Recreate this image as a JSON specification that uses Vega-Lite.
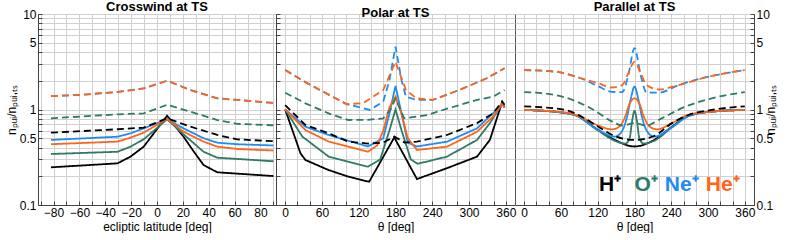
{
  "$schema": "https://vega.github.io/schema/vega-lite/v6.json",
  "padding": {"left": 4, "top": 0, "right": 0, "bottom": 0},
  "background": "white",
  "spacing": 0,
  "bounds": "flush",
  "config": {
    "font": "Liberation Sans",
    "view": {"stroke": "#555", "strokeWidth": 1},
    "title": {"fontSize": 13, "fontWeight": "bold", "font": "Liberation Sans", "offset": -6, "color": "#000"},
    "axis": {
      "labelFont": "Liberation Sans", "labelFontSize": 12, "labelColor": "#000",
      "titleFont": "Liberation Sans", "titleFontSize": 12, "titleFontWeight": "normal", "titleColor": "#000",
      "gridColor": "#d0d0d0", "gridWidth": 1, "tickColor": "#444", "tickSize": -4, "domainColor": "#444",
      "labelPadding": 6, "titlePadding": 3
    },
    "line": {"strokeWidth": 1.8}
  },
  "datasets": {
    "cross": [
      {"x":-82,"v":0.248,"s":"H","k":"solid"},{"x":-30.5,"v":0.273,"s":"H","k":"solid"},{"x":-20.5,"v":0.321,"s":"H","k":"solid"},{"x":-10.3,"v":0.408,"s":"H","k":"solid"},{"x":7.8,"v":0.86,"s":"H","k":"solid"},{"x":20.5,"v":0.519,"s":"H","k":"solid"},{"x":28,"v":0.37,"s":"H","k":"solid"},{"x":36,"v":0.262,"s":"H","k":"solid"},{"x":46.6,"v":0.22,"s":"H","k":"solid"},{"x":90,"v":0.201,"s":"H","k":"solid"},
      {"x":-82,"v":0.342,"s":"O","k":"solid"},{"x":-30.5,"v":0.361,"s":"O","k":"solid"},{"x":-20.5,"v":0.408,"s":"O","k":"solid"},{"x":-10.3,"v":0.487,"s":"O","k":"solid"},{"x":7.8,"v":0.789,"s":"O","k":"solid"},{"x":20.5,"v":0.55,"s":"O","k":"solid"},{"x":36,"v":0.361,"s":"O","k":"solid"},{"x":46.6,"v":0.313,"s":"O","k":"solid"},{"x":90,"v":0.287,"s":"O","k":"solid"},
      {"x":-82,"v":0.48,"s":"Ne","k":"solid"},{"x":-30.5,"v":0.519,"s":"Ne","k":"solid"},{"x":-20.5,"v":0.563,"s":"Ne","k":"solid"},{"x":-10.3,"v":0.635,"s":"Ne","k":"solid"},{"x":7.8,"v":0.789,"s":"Ne","k":"solid"},{"x":20.5,"v":0.635,"s":"Ne","k":"solid"},{"x":36,"v":0.5,"s":"Ne","k":"solid"},{"x":46.6,"v":0.449,"s":"Ne","k":"solid"},{"x":62,"v":0.433,"s":"Ne","k":"solid"},{"x":90,"v":0.42,"s":"Ne","k":"solid"},
      {"x":-82,"v":0.433,"s":"He","k":"solid"},{"x":-30.5,"v":0.461,"s":"He","k":"solid"},{"x":-20.5,"v":0.507,"s":"He","k":"solid"},{"x":-10.3,"v":0.572,"s":"He","k":"solid"},{"x":7.8,"v":0.8,"s":"He","k":"solid"},{"x":20.5,"v":0.585,"s":"He","k":"solid"},{"x":36,"v":0.461,"s":"He","k":"solid"},{"x":46.6,"v":0.408,"s":"He","k":"solid"},{"x":62,"v":0.386,"s":"He","k":"solid"},{"x":90,"v":0.372,"s":"He","k":"solid"},
      {"x":-82,"v":0.572,"s":"H","k":"dashed"},{"x":-30.5,"v":0.621,"s":"H","k":"dashed"},{"x":-10.3,"v":0.645,"s":"H","k":"dashed"},{"x":7.8,"v":0.809,"s":"H","k":"dashed"},{"x":25.9,"v":0.661,"s":"H","k":"dashed"},{"x":46.6,"v":0.541,"s":"H","k":"dashed"},{"x":62,"v":0.487,"s":"H","k":"dashed"},{"x":90,"v":0.465,"s":"H","k":"dashed"},
      {"x":-82,"v":0.809,"s":"O","k":"dashed"},{"x":-30.5,"v":0.89,"s":"O","k":"dashed"},{"x":-10.3,"v":0.91,"s":"O","k":"dashed"},{"x":7.8,"v":1.12,"s":"O","k":"dashed"},{"x":25.9,"v":0.948,"s":"O","k":"dashed"},{"x":46.6,"v":0.776,"s":"O","k":"dashed"},{"x":62,"v":0.707,"s":"O","k":"dashed"},{"x":90,"v":0.684,"s":"O","k":"dashed"},
      {"x":-82,"v":1.38,"s":"Ne","k":"dashed"},{"x":-57,"v":1.43,"s":"Ne","k":"dashed"},{"x":-30,"v":1.53,"s":"Ne","k":"dashed"},{"x":-10.3,"v":1.66,"s":"Ne","k":"dashed"},{"x":7.8,"v":2.0,"s":"Ne","k":"dashed"},{"x":25.9,"v":1.6,"s":"Ne","k":"dashed"},{"x":46.6,"v":1.31,"s":"Ne","k":"dashed"},{"x":62,"v":1.26,"s":"Ne","k":"dashed"},{"x":90,"v":1.17,"s":"Ne","k":"dashed"},
      {"x":-82,"v":1.38,"s":"He","k":"dashed"},{"x":-57,"v":1.43,"s":"He","k":"dashed"},{"x":-30,"v":1.53,"s":"He","k":"dashed"},{"x":-10.3,"v":1.66,"s":"He","k":"dashed"},{"x":7.8,"v":2.0,"s":"He","k":"dashed"},{"x":25.9,"v":1.6,"s":"He","k":"dashed"},{"x":46.6,"v":1.31,"s":"He","k":"dashed"},{"x":62,"v":1.26,"s":"He","k":"dashed"},{"x":90,"v":1.17,"s":"He","k":"dashed"}
    ],
    "polar": [
      {"x":0,"v":1.0,"s":"H","k":"solid"},{"x":25,"v":0.347,"s":"H","k":"solid"},{"x":33,"v":0.296,"s":"H","k":"solid"},{"x":71,"v":0.232,"s":"H","k":"solid"},{"x":103,"v":0.198,"s":"H","k":"solid"},{"x":137,"v":0.175,"s":"H","k":"solid"},{"x":178,"v":0.51,"s":"H","k":"solid"},{"x":215,"v":0.187,"s":"H","k":"solid"},{"x":264,"v":0.243,"s":"H","k":"solid"},{"x":313,"v":0.321,"s":"H","k":"solid"},{"x":334,"v":0.48,"s":"H","k":"solid"},{"x":354,"v":1.2,"s":"H","k":"solid"},{"x":358,"v":1.05,"s":"H","k":"solid"},
      {"x":0,"v":1.0,"s":"O","k":"solid"},{"x":28,"v":0.52,"s":"O","k":"solid"},{"x":71,"v":0.321,"s":"O","k":"solid"},{"x":135,"v":0.252,"s":"O","k":"solid"},{"x":155,"v":0.3,"s":"O","k":"solid"},{"x":170,"v":0.6,"s":"O","k":"solid"},{"x":180,"v":1.0,"s":"O","k":"solid"},{"x":190,"v":0.6,"s":"O","k":"solid"},{"x":205,"v":0.3,"s":"O","k":"solid"},{"x":216,"v":0.27,"s":"O","k":"solid"},{"x":264,"v":0.321,"s":"O","k":"solid"},{"x":313,"v":0.48,"s":"O","k":"solid"},{"x":334,"v":0.72,"s":"O","k":"solid"},{"x":354,"v":1.15,"s":"O","k":"solid"},{"x":358,"v":1.05,"s":"O","k":"solid"},
      {"x":0,"v":1.0,"s":"Ne","k":"solid"},{"x":33,"v":0.66,"s":"Ne","k":"solid"},{"x":71,"v":0.541,"s":"Ne","k":"solid"},{"x":135,"v":0.41,"s":"Ne","k":"solid"},{"x":160,"v":0.5,"s":"Ne","k":"solid"},{"x":170,"v":0.9,"s":"Ne","k":"solid"},{"x":180,"v":1.77,"s":"Ne","k":"solid"},{"x":190,"v":0.9,"s":"Ne","k":"solid"},{"x":200,"v":0.45,"s":"Ne","k":"solid"},{"x":215,"v":0.41,"s":"Ne","k":"solid"},{"x":264,"v":0.46,"s":"Ne","k":"solid"},{"x":313,"v":0.635,"s":"Ne","k":"solid"},{"x":339,"v":0.91,"s":"Ne","k":"solid"},{"x":354,"v":1.15,"s":"Ne","k":"solid"},{"x":358,"v":1.05,"s":"Ne","k":"solid"},
      {"x":0,"v":1.0,"s":"He","k":"solid"},{"x":33,"v":0.61,"s":"He","k":"solid"},{"x":71,"v":0.461,"s":"He","k":"solid"},{"x":135,"v":0.361,"s":"He","k":"solid"},{"x":150,"v":0.42,"s":"He","k":"solid"},{"x":160,"v":0.6,"s":"He","k":"solid"},{"x":170,"v":1.05,"s":"He","k":"solid"},{"x":180,"v":1.36,"s":"He","k":"solid"},{"x":190,"v":0.9,"s":"He","k":"solid"},{"x":200,"v":0.5,"s":"He","k":"solid"},{"x":215,"v":0.377,"s":"He","k":"solid"},{"x":264,"v":0.408,"s":"He","k":"solid"},{"x":313,"v":0.585,"s":"He","k":"solid"},{"x":339,"v":0.84,"s":"He","k":"solid"},{"x":354,"v":1.15,"s":"He","k":"solid"},{"x":358,"v":1.05,"s":"He","k":"solid"},
      {"x":0,"v":1.11,"s":"H","k":"dashed"},{"x":33,"v":0.689,"s":"H","k":"dashed"},{"x":71,"v":0.563,"s":"H","k":"dashed"},{"x":103,"v":0.461,"s":"H","k":"dashed"},{"x":135,"v":0.44,"s":"H","k":"dashed"},{"x":160,"v":0.45,"s":"H","k":"dashed"},{"x":178,"v":0.52,"s":"H","k":"dashed"},{"x":195,"v":0.45,"s":"H","k":"dashed"},{"x":215,"v":0.461,"s":"H","k":"dashed"},{"x":264,"v":0.541,"s":"H","k":"dashed"},{"x":313,"v":0.72,"s":"H","k":"dashed"},{"x":339,"v":0.91,"s":"H","k":"dashed"},{"x":354,"v":1.21,"s":"H","k":"dashed"},{"x":358,"v":1.12,"s":"H","k":"dashed"},
      {"x":0,"v":1.5,"s":"O","k":"dashed"},{"x":33,"v":1.16,"s":"O","k":"dashed"},{"x":71,"v":0.91,"s":"O","k":"dashed"},{"x":103,"v":0.776,"s":"O","k":"dashed"},{"x":135,"v":0.78,"s":"O","k":"dashed"},{"x":160,"v":0.809,"s":"O","k":"dashed"},{"x":172,"v":1.0,"s":"O","k":"dashed"},{"x":180,"v":1.3,"s":"O","k":"dashed"},{"x":188,"v":1.0,"s":"O","k":"dashed"},{"x":194,"v":0.809,"s":"O","k":"dashed"},{"x":232,"v":0.876,"s":"O","k":"dashed"},{"x":264,"v":1.02,"s":"O","k":"dashed"},{"x":313,"v":1.26,"s":"O","k":"dashed"},{"x":339,"v":1.36,"s":"O","k":"dashed"},{"x":358,"v":1.6,"s":"O","k":"dashed"},
      {"x":0,"v":2.59,"s":"Ne","k":"dashed"},{"x":35,"v":1.9,"s":"Ne","k":"dashed"},{"x":100,"v":1.14,"s":"Ne","k":"dashed"},{"x":138,"v":0.99,"s":"Ne","k":"dashed"},{"x":160,"v":1.21,"s":"Ne","k":"dashed"},{"x":170,"v":2.0,"s":"Ne","k":"dashed"},{"x":180,"v":4.55,"s":"Ne","k":"dashed"},{"x":190,"v":2.0,"s":"Ne","k":"dashed"},{"x":197,"v":1.36,"s":"Ne","k":"dashed"},{"x":214,"v":1.26,"s":"Ne","k":"dashed"},{"x":241,"v":1.26,"s":"Ne","k":"dashed"},{"x":284,"v":1.6,"s":"Ne","k":"dashed"},{"x":328,"v":2.11,"s":"Ne","k":"dashed"},{"x":358,"v":2.7,"s":"Ne","k":"dashed"},
      {"x":0,"v":2.59,"s":"He","k":"dashed"},{"x":35,"v":1.9,"s":"He","k":"dashed"},{"x":100,"v":1.14,"s":"He","k":"dashed"},{"x":127,"v":1.16,"s":"He","k":"dashed"},{"x":160,"v":1.6,"s":"He","k":"dashed"},{"x":180,"v":3.16,"s":"He","k":"dashed"},{"x":197,"v":1.6,"s":"He","k":"dashed"},{"x":214,"v":1.31,"s":"He","k":"dashed"},{"x":241,"v":1.26,"s":"He","k":"dashed"},{"x":284,"v":1.6,"s":"He","k":"dashed"},{"x":328,"v":2.11,"s":"He","k":"dashed"},{"x":358,"v":2.7,"s":"He","k":"dashed"}
    ],
    "parallel": [
      {"x":0,"v":0.99,"s":"H","k":"solid"},{"x":67,"v":0.92,"s":"H","k":"solid"},{"x":83,"v":0.876,"s":"H","k":"solid"},{"x":121,"v":0.61,"s":"H","k":"solid"},{"x":148,"v":0.48,"s":"H","k":"solid"},{"x":180,"v":0.41,"s":"H","k":"solid"},{"x":212,"v":0.48,"s":"H","k":"solid"},{"x":241,"v":0.66,"s":"H","k":"solid"},{"x":268,"v":0.86,"s":"H","k":"solid"},{"x":306,"v":0.95,"s":"H","k":"solid"},{"x":360,"v":0.99,"s":"H","k":"solid"},
      {"x":0,"v":0.99,"s":"O","k":"solid"},{"x":67,"v":0.92,"s":"O","k":"solid"},{"x":83,"v":0.876,"s":"O","k":"solid"},{"x":121,"v":0.6,"s":"O","k":"solid"},{"x":148,"v":0.47,"s":"O","k":"solid"},{"x":165,"v":0.44,"s":"O","k":"solid"},{"x":172,"v":0.5,"s":"O","k":"solid"},{"x":176,"v":0.75,"s":"O","k":"solid"},{"x":180,"v":0.97,"s":"O","k":"solid"},{"x":184,"v":0.75,"s":"O","k":"solid"},{"x":188,"v":0.5,"s":"O","k":"solid"},{"x":195,"v":0.44,"s":"O","k":"solid"},{"x":212,"v":0.47,"s":"O","k":"solid"},{"x":241,"v":0.65,"s":"O","k":"solid"},{"x":268,"v":0.86,"s":"O","k":"solid"},{"x":306,"v":0.95,"s":"O","k":"solid"},{"x":360,"v":0.99,"s":"O","k":"solid"},
      {"x":0,"v":0.99,"s":"Ne","k":"solid"},{"x":67,"v":0.92,"s":"Ne","k":"solid"},{"x":83,"v":0.87,"s":"Ne","k":"solid"},{"x":121,"v":0.61,"s":"Ne","k":"solid"},{"x":148,"v":0.52,"s":"Ne","k":"solid"},{"x":160,"v":0.6,"s":"Ne","k":"solid"},{"x":168,"v":0.85,"s":"Ne","k":"solid"},{"x":174,"v":1.3,"s":"Ne","k":"solid"},{"x":180,"v":1.74,"s":"Ne","k":"solid"},{"x":186,"v":1.3,"s":"Ne","k":"solid"},{"x":192,"v":0.85,"s":"Ne","k":"solid"},{"x":200,"v":0.6,"s":"Ne","k":"solid"},{"x":212,"v":0.52,"s":"Ne","k":"solid"},{"x":241,"v":0.65,"s":"Ne","k":"solid"},{"x":268,"v":0.85,"s":"Ne","k":"solid"},{"x":306,"v":0.95,"s":"Ne","k":"solid"},{"x":360,"v":0.99,"s":"Ne","k":"solid"},
      {"x":0,"v":0.99,"s":"He","k":"solid"},{"x":67,"v":0.93,"s":"He","k":"solid"},{"x":83,"v":0.88,"s":"He","k":"solid"},{"x":121,"v":0.68,"s":"He","k":"solid"},{"x":143,"v":0.62,"s":"He","k":"solid"},{"x":155,"v":0.66,"s":"He","k":"solid"},{"x":165,"v":0.85,"s":"He","k":"solid"},{"x":172,"v":1.15,"s":"He","k":"solid"},{"x":180,"v":1.31,"s":"He","k":"solid"},{"x":188,"v":1.15,"s":"He","k":"solid"},{"x":195,"v":0.85,"s":"He","k":"solid"},{"x":205,"v":0.66,"s":"He","k":"solid"},{"x":217,"v":0.62,"s":"He","k":"solid"},{"x":241,"v":0.72,"s":"He","k":"solid"},{"x":268,"v":0.88,"s":"He","k":"solid"},{"x":306,"v":0.95,"s":"He","k":"solid"},{"x":360,"v":0.99,"s":"He","k":"solid"},
      {"x":0,"v":1.08,"s":"H","k":"dashed"},{"x":67,"v":0.99,"s":"H","k":"dashed"},{"x":94,"v":0.84,"s":"H","k":"dashed"},{"x":121,"v":0.66,"s":"H","k":"dashed"},{"x":148,"v":0.528,"s":"H","k":"dashed"},{"x":180,"v":0.48,"s":"H","k":"dashed"},{"x":212,"v":0.528,"s":"H","k":"dashed"},{"x":241,"v":0.72,"s":"H","k":"dashed"},{"x":268,"v":0.876,"s":"H","k":"dashed"},{"x":306,"v":0.99,"s":"H","k":"dashed"},{"x":360,"v":1.08,"s":"H","k":"dashed"},
      {"x":0,"v":1.52,"s":"O","k":"dashed"},{"x":50,"v":1.42,"s":"O","k":"dashed"},{"x":110,"v":1.02,"s":"O","k":"dashed"},{"x":143,"v":0.75,"s":"O","k":"dashed"},{"x":160,"v":0.68,"s":"O","k":"dashed"},{"x":180,"v":0.72,"s":"O","k":"dashed"},{"x":200,"v":0.68,"s":"O","k":"dashed"},{"x":219,"v":0.776,"s":"O","k":"dashed"},{"x":263,"v":1.07,"s":"O","k":"dashed"},{"x":306,"v":1.31,"s":"O","k":"dashed"},{"x":360,"v":1.52,"s":"O","k":"dashed"},
      {"x":0,"v":2.59,"s":"Ne","k":"dashed"},{"x":50,"v":2.49,"s":"Ne","k":"dashed"},{"x":90,"v":2.15,"s":"Ne","k":"dashed"},{"x":121,"v":1.75,"s":"Ne","k":"dashed"},{"x":143,"v":1.53,"s":"Ne","k":"dashed"},{"x":160,"v":1.52,"s":"Ne","k":"dashed"},{"x":170,"v":2.3,"s":"Ne","k":"dashed"},{"x":180,"v":4.4,"s":"Ne","k":"dashed"},{"x":190,"v":2.3,"s":"Ne","k":"dashed"},{"x":200,"v":1.5,"s":"Ne","k":"dashed"},{"x":220,"v":1.5,"s":"Ne","k":"dashed"},{"x":252,"v":1.8,"s":"Ne","k":"dashed"},{"x":300,"v":2.2,"s":"Ne","k":"dashed"},{"x":360,"v":2.59,"s":"Ne","k":"dashed"},
      {"x":0,"v":2.59,"s":"He","k":"dashed"},{"x":50,"v":2.49,"s":"He","k":"dashed"},{"x":90,"v":2.15,"s":"He","k":"dashed"},{"x":121,"v":1.88,"s":"He","k":"dashed"},{"x":143,"v":1.7,"s":"He","k":"dashed"},{"x":160,"v":1.8,"s":"He","k":"dashed"},{"x":170,"v":2.4,"s":"He","k":"dashed"},{"x":180,"v":3.16,"s":"He","k":"dashed"},{"x":190,"v":2.4,"s":"He","k":"dashed"},{"x":200,"v":1.8,"s":"He","k":"dashed"},{"x":220,"v":1.62,"s":"He","k":"dashed"},{"x":252,"v":1.8,"s":"He","k":"dashed"},{"x":300,"v":2.2,"s":"He","k":"dashed"},{"x":360,"v":2.59,"s":"He","k":"dashed"}
    ],
    "legend": [
      {"t":"H⁺","s":"H","x":140,"v":0.163},
      {"t":"O⁺","s":"O","x":199,"v":0.163},
      {"t":"Ne⁺","s":"Ne","x":257,"v":0.163},
      {"t":"He⁺","s":"He","x":324,"v":0.163}
    ]
  },
  "hconcat": [
    {
      "width": 238, "height": 191,
      "title": "Crosswind at TS",
      "data": {"name": "cross"},
      "mark": {"type": "line", "clip": true},
      "encoding": {
        "x": {"field": "x", "type": "quantitative", "scale": {"domain": [-92, 92], "nice": false},
          "axis": {"title": "ecliptic latitude [deg]", "values": [-90,-80,-70,-60,-50,-40,-30,-20,-10,0,10,20,30,40,50,60,70,80,90],
            "labelExpr": "datum.value % 20 == 0 && abs(datum.value) < 90 ? datum.label : ''"}},
        "y": {"field": "v", "type": "quantitative", "scale": {"type": "log", "domain": [0.1, 10], "nice": false},
          "axis": {"title": "nₚᵤᵢ/nₚᵤᵢ,ₜₛ", "values": [0.1,0.2,0.3,0.4,0.5,0.6,0.7,0.8,0.9,1,2,3,4,5,6,7,8,9,10],
            "labelExpr": "indexof([0.1,0.5,1,5,10], datum.value) >= 0 ? datum.label : ''", "format": "~g", "titlePadding": 1}},
        "color": {"field": "s", "type": "nominal", "scale": {"domain": ["H","O","Ne","He"], "range": ["#000000","#2e7a66","#1e8cf5","#ff6418"]}, "legend": null},
        "strokeDash": {"field": "k", "type": "nominal", "scale": {"domain": ["solid","dashed"], "range": [[1,0],[7,4]]}, "legend": null}
      }
    },
    {
      "width": 239, "height": 191,
      "title": "Polar at TS",
      "data": {"name": "polar"},
      "mark": {"type": "line", "clip": true},
      "encoding": {
        "x": {"field": "x", "type": "quantitative", "scale": {"domain": [-15, 375], "nice": false},
          "axis": {"title": "θ [deg]", "values": [0,20,40,60,80,100,120,140,160,180,200,220,240,260,280,300,320,340,360],
            "labelExpr": "datum.value % 60 == 0 ? datum.label : ''"}},
        "y": {"field": "v", "type": "quantitative", "scale": {"type": "log", "domain": [0.1, 10], "nice": false},
          "axis": {"title": null, "labels": false, "values": [0.1,0.2,0.3,0.4,0.5,0.6,0.7,0.8,0.9,1,2,3,4,5,6,7,8,9,10]}},
        "color": {"field": "s", "type": "nominal", "legend": null},
        "strokeDash": {"field": "k", "type": "nominal", "legend": null}
      }
    },
    {
      "width": 239, "height": 191,
      "title": "Parallel at TS",
      "encoding": {
        "x": {"field": "x", "type": "quantitative", "scale": {"domain": [-15, 375], "nice": false},
          "axis": {"title": "θ [deg]", "values": [0,20,40,60,80,100,120,140,160,180,200,220,240,260,280,300,320,340,360],
            "labelExpr": "datum.value % 60 == 0 ? datum.label : ''"}},
        "y": {"field": "v", "type": "quantitative", "scale": {"type": "log", "domain": [0.1, 10], "nice": false},
          "axis": {"orient": "right", "title": "nₚᵤᵢ/nₚᵤᵢ,ₜₛ", "titleAngle": 270, "values": [0.1,0.2,0.3,0.4,0.5,0.6,0.7,0.8,0.9,1,2,3,4,5,6,7,8,9,10],
            "labelExpr": "indexof([0.1,0.5,1,5,10], datum.value) >= 0 ? datum.label : ''", "format": "~g", "titlePadding": 5}},
        "color": {"field": "s", "type": "nominal", "legend": null}
      },
      "layer": [
        {
          "data": {"name": "parallel"},
          "mark": {"type": "line", "clip": true, "interpolate": "monotone"},
          "encoding": {
            "strokeDash": {"field": "k", "type": "nominal", "legend": null}
          }
        },
        {
          "data": {"name": "legend"},
          "mark": {"type": "text", "fontSize": 21, "fontWeight": "bold", "font": "Liberation Sans", "align": "center", "baseline": "middle"},
          "encoding": {
            "text": {"field": "t"}
          }
        }
      ]
    }
  ],
  "resolve": {"scale": {"color": "shared", "strokeDash": "shared"}}
}
